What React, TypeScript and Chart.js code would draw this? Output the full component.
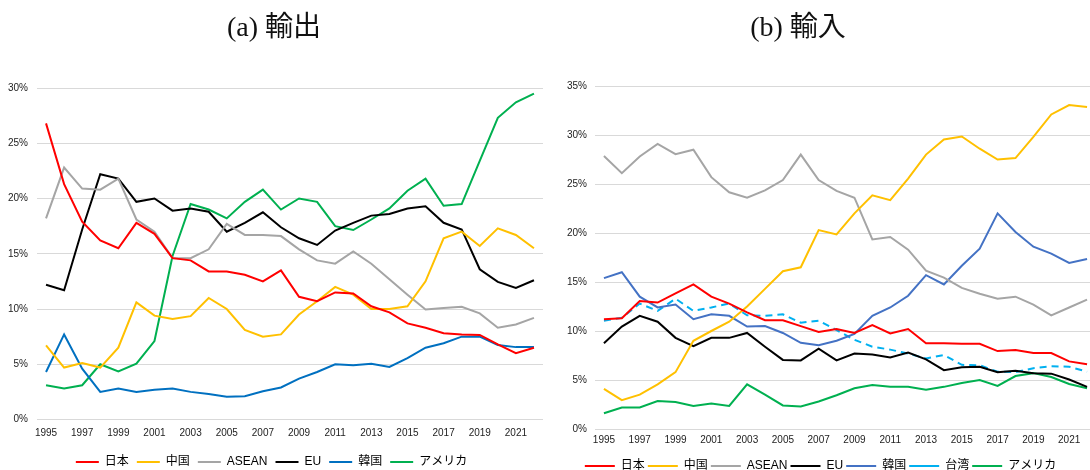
import React, { useEffect, useRef } from "react";
import { Chart, registerables } from "chart.js";
Chart.register(...registerables);

const years = ["1995","1996","1997","1998","1999","2000","2001","2002","2003","2004","2005","2006","2007","2008","2009","2010","2011","2012","2013","2014","2015","2016","2017","2018","2019","2020","2021","2022"];

const exportTitle = "(a) 輸出";
const importTitle = "(b) 輸入";

// (a) Exports, %
const exJapan = [26.8, 21.3, 17.9, 16.2, 15.5, 17.8, 16.8, 14.6, 14.4, 13.4, 13.4, 13.1, 12.5, 13.5, 11.1, 10.7, 11.5, 11.4, 10.25, 9.7, 8.7, 8.3, 7.8, 7.7, 7.65, 6.8, 6.0, 6.5];
const exChina = [6.7, 4.7, 5.1, 4.7, 6.5, 10.6, 9.4, 9.1, 9.35, 11.0, 10.0, 8.1, 7.5, 7.7, 9.5, 10.7, 12.0, 11.3, 10.0, 10.0, 10.25, 12.5, 16.4, 17.0, 15.7, 17.3, 16.7, 15.5];
const exAsean = [18.2, 22.8, 20.9, 20.8, 21.8, 18.1, 17.0, 14.6, 14.6, 15.4, 17.7, 16.7, 16.7, 16.6, 15.4, 14.4, 14.1, 15.2, 14.1, 12.7, 11.3, 9.95, 10.1, 10.2, 9.6, 8.3, 8.6, 9.2];
const exEU = [12.2, 11.7, 17.2, 22.2, 21.8, 19.7, 20.0, 18.9, 19.1, 18.8, 17.0, 17.8, 18.75, 17.4, 16.4, 15.8, 17.1, 17.8, 18.45, 18.6, 19.1, 19.3, 17.8, 17.2, 13.6, 12.45, 11.9, 12.6];
const exKorea = [4.3, 7.7, 4.6, 2.5, 2.8, 2.5, 2.7, 2.8, 2.5, 2.3, 2.05, 2.1, 2.55, 2.9, 3.7, 4.3, 5.0, 4.9, 5.05, 4.75, 5.55, 6.5, 6.9, 7.5, 7.5, 6.75, 6.55, 6.55];
const exUSA = [3.1, 2.8, 3.1, 5.0, 4.35, 5.05, 7.1, 14.8, 19.5, 19.0, 18.2, 19.7, 20.8, 19.0, 20.0, 19.7, 17.5, 17.15, 18.1, 19.1, 20.7, 21.8, 19.35, 19.5, 23.4, 27.3, 28.7, 29.5];

// (b) Imports, %
const imJapan = [11.2, 11.3, 13.05, 12.9, 13.85, 14.75, 13.5, 12.8, 11.9, 11.1, 11.1, 10.5, 9.9, 10.2, 9.8, 10.6, 9.75, 10.2, 8.75, 8.75, 8.7, 8.7, 7.95, 8.05, 7.75, 7.75, 6.9, 6.6];
const imChina = [4.1, 2.95, 3.5, 4.55, 5.8, 9.0, 10.0, 10.95, 12.5, 14.3, 16.1, 16.5, 20.3, 19.85, 22.0, 23.85, 23.35, 25.55, 28.0, 29.55, 29.85, 28.6, 27.5, 27.65, 29.8, 32.1, 33.05, 32.85];
const imAsean = [27.85, 26.1, 27.8, 29.1, 28.05, 28.5, 25.7, 24.15, 23.6, 24.35, 25.4, 28.0, 25.4, 24.3, 23.6, 19.35, 19.6, 18.3, 16.15, 15.45, 14.4, 13.8, 13.3, 13.5, 12.7, 11.6, 12.4, 13.2];
const imEU = [8.75, 10.45, 11.55, 10.95, 9.3, 8.45, 9.3, 9.3, 9.8, 8.4, 7.05, 7.0, 8.2, 7.0, 7.7, 7.6, 7.3, 7.8, 7.1, 6.0, 6.3, 6.35, 5.8, 5.95, 5.7, 5.65, 5.05, 4.3];
const imKorea = [15.4, 16.0, 13.5, 12.4, 12.7, 11.2, 11.7, 11.55, 10.45, 10.5, 9.8, 8.8, 8.55, 9.0, 9.7, 11.55, 12.4, 13.6, 15.7, 14.75, 16.65, 18.4, 22.0, 20.1, 18.6, 17.9, 16.95, 17.35];
const imTaiwan = [11.05, 11.35, 12.8, 12.05, 13.3, 12.05, 12.4, 12.8, 11.6, 11.55, 11.7, 10.85, 11.05, 10.1, 9.1, 8.4, 8.1, 7.7, 7.2, 7.55, 6.55, 6.5, 5.85, 5.8, 6.2, 6.4, 6.35, 5.85];
const imUSA = [1.6, 2.2, 2.2, 2.85, 2.75, 2.35, 2.6, 2.35, 4.55, 3.5, 2.4, 2.3, 2.8, 3.45, 4.15, 4.5, 4.3, 4.3, 4.0, 4.3, 4.7, 5.0, 4.4, 5.4, 5.7, 5.3, 4.6, 4.15];

const FONT = "'Liberation Sans', 'Noto Sans CJK JP', sans-serif";

type DS = { label: string; data: number[]; color: string; dash?: number[] };

function makeConfig(sets: DS[], opts: {
  yMax: number; yWidth: number; yPad: number; padTop: number; padRight: number;
  xHeight: number; xPad: number; boxW: number; legPad: number;
}): any {
  return {
    type: "line",
    data: {
      labels: years,
      datasets: sets.map((s) => ({
        label: s.label,
        data: s.data,
        borderColor: s.color,
        backgroundColor: s.color,
        borderWidth: 2,
        borderDash: s.dash || [],
        pointRadius: 0,
        tension: 0,
        fill: false,
      })),
    },
    options: {
      responsive: false,
      animation: false,
      layout: { padding: { top: opts.padTop, right: opts.padRight, left: 0, bottom: 0 } },
      plugins: {
        title: { display: false },
        tooltip: { enabled: false },
        legend: {
          position: "bottom",
          labels: {
            usePointStyle: true,
            pointStyle: "line",
            pointStyleWidth: opts.boxW,
            boxHeight: 2,
            padding: opts.legPad,
            color: "#000",
            font: { family: FONT, size: 12 },
          },
        },
      },
      scales: {
        x: {
          offset: true,
          grid: { display: false, drawTicks: false },
          border: { display: false },
          afterFit: (s: any) => { s.height = opts.xHeight; },
          ticks: {
            autoSkip: false,
            maxRotation: 0,
            minRotation: 0,
            padding: opts.xPad,
            color: "#222",
            font: { family: FONT, size: 10 },
            callback: (_v: any, i: number) => (i % 2 === 0 ? years[i] : ""),
          },
        },
        y: {
          min: 0,
          max: opts.yMax,
          afterFit: (s: any) => { s.width = opts.yWidth; },
          grid: { color: "#d9d9d9", lineWidth: 1, drawTicks: false },
          border: { display: false },
          ticks: {
            stepSize: 5,
            padding: opts.yPad,
            color: "#222",
            font: { family: FONT, size: 10 },
            callback: (v: any) => v + "%",
          },
        },
      },
    },
  };
}

function ChartBox(props: { config: any; left: number; width: number; height: number }) {
  const ref = useRef<HTMLCanvasElement | null>(null);
  useEffect(() => {
    if (!ref.current) return;
    const c = new Chart(ref.current, props.config);
    return () => c.destroy();
  }, []);
  return (
    <canvas
      ref={ref}
      width={props.width}
      height={props.height}
      style={{ position: "absolute", left: props.left, top: 0, width: props.width, height: props.height }}
    />
  );
}

const titleStyle: React.CSSProperties = {
  position: "absolute",
  top: 7,
  width: 300,
  textAlign: "center",
  fontFamily: "'Liberation Serif', 'Noto Sans CJK JP', serif",
  fontSize: 28,
  lineHeight: "40px",
  color: "#111",
};

export default function App() {
  const exportSets: DS[] = [
    { label: "日本", data: exJapan, color: "#ff0000" },
    { label: "中国", data: exChina, color: "#ffc000" },
    { label: "ASEAN", data: exAsean, color: "#a5a5a5" },
    { label: "EU", data: exEU, color: "#000000" },
    { label: "韓国", data: exKorea, color: "#0070c0" },
    { label: "アメリカ", data: exUSA, color: "#00b050" },
  ];
  const importSets: DS[] = [
    { label: "日本", data: imJapan, color: "#ff0000" },
    { label: "中国", data: imChina, color: "#ffc000" },
    { label: "ASEAN", data: imAsean, color: "#a5a5a5" },
    { label: "EU", data: imEU, color: "#000000" },
    { label: "韓国", data: imKorea, color: "#4472c4" },
    { label: "台湾", data: imTaiwan, color: "#00b0f0", dash: [7, 5] },
    { label: "アメリカ", data: imUSA, color: "#00b050" },
  ];
  const leftCfg = makeConfig(exportSets, {
    yMax: 30, yWidth: 37, yPad: 9, padTop: 88, padRight: 2,
    xHeight: 28.5, xPad: 8, boxW: 23, legPad: 8,
  });
  const rightCfg = makeConfig(importSets, {
    yMax: 35, yWidth: 50, yPad: 8, padTop: 86, padRight: 9,
    xHeight: 28, xPad: 5, boxW: 30, legPad: 3,
  });
  return (
    <div style={{ position: "absolute", left: 0, top: 0, width: 1090, height: 470, overflow: "hidden", background: "#fff" }}>
      <ChartBox config={leftCfg} left={0} width={545} height={478} />
      <ChartBox config={rightCfg} left={545} width={560} height={482} />
      <div style={{ ...titleStyle, left: 124 }}>{exportTitle}</div>
      <div style={{ ...titleStyle, left: 648 }}>{importTitle}</div>
    </div>
  );
}
